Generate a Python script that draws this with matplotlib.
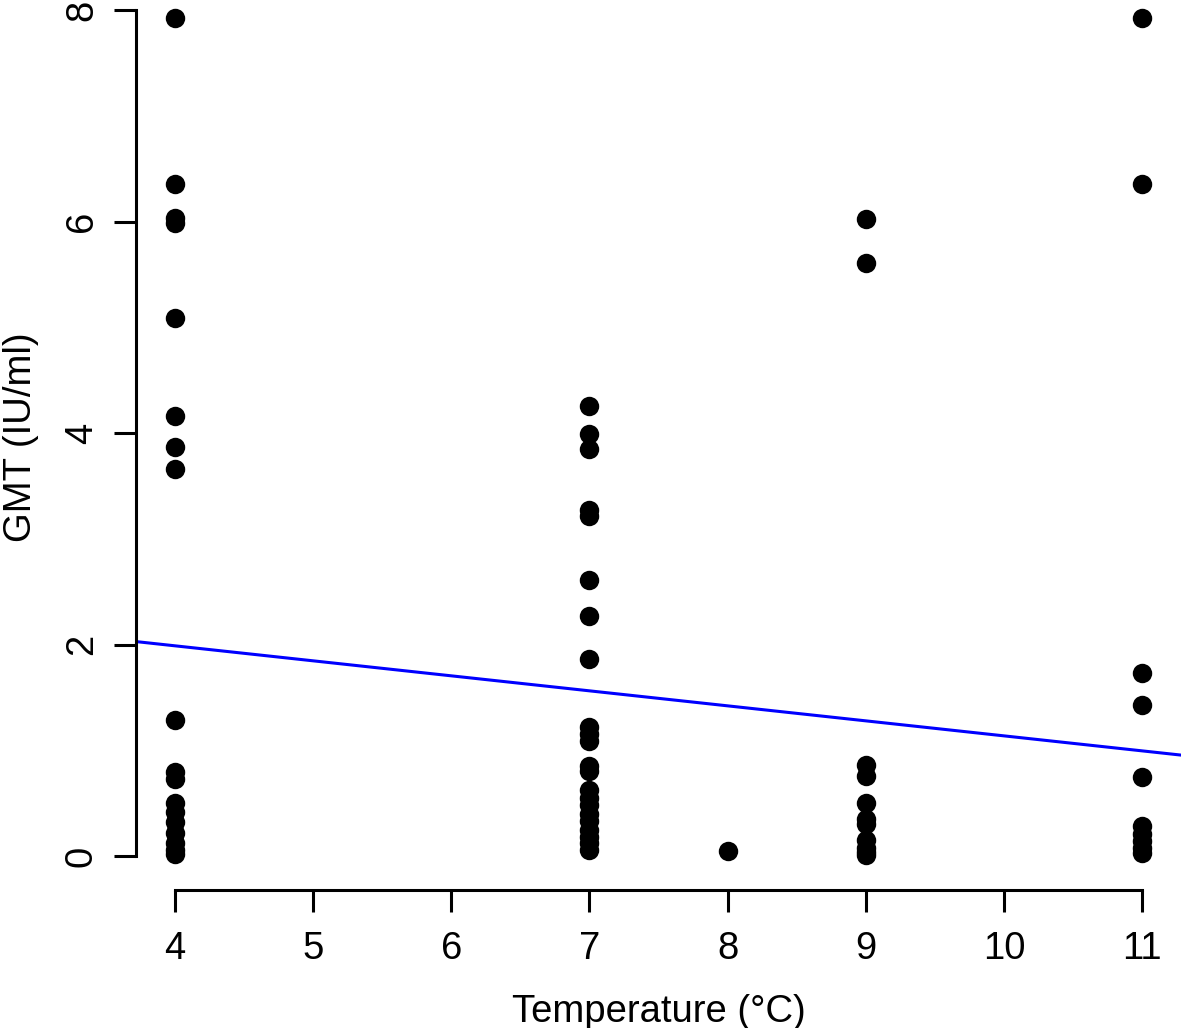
import numpy as np
import matplotlib.pyplot as plt

plt.rcParams['font.family'] = ['Liberation Sans', 'DejaVu Sans']

# GMT readings per storage temperature
temp_4 = [7.93, 6.36, 6.03, 5.99, 5.09, 4.16, 3.87, 3.66, 1.29, 0.79, 0.73,
          0.50, 0.42, 0.32, 0.22, 0.12, 0.06, 0.02]
temp_7 = [4.26, 3.99, 3.85, 3.27, 3.22, 2.61, 2.27, 1.86, 1.22, 1.15, 1.09,
          0.85, 0.80, 0.62, 0.55, 0.48, 0.40, 0.33, 0.25, 0.18, 0.12, 0.06]
temp_8 = [0.05]
temp_9 = [6.02, 5.61, 0.86, 0.76, 0.50, 0.35, 0.30, 0.15, 0.08, 0.04, 0.01]
temp_11 = [7.93, 6.36, 1.73, 1.43, 0.75, 0.28, 0.21, 0.14, 0.08, 0.03]

groups = {4: temp_4, 7: temp_7, 8: temp_8, 9: temp_9, 11: temp_11}

# fitted line GMT = a + b * temperature
fit_a = 2.556
fit_b = -0.142

x_ticks = [4, 5, 6, 7, 8, 9, 10, 11]
y_ticks = [0, 2, 4, 6, 8]

xs = []
ys = []
for t, vals in groups.items():
    xs += [t] * len(vals)
    ys += vals

fig = plt.figure(figsize=(11.81, 10.28), dpi=100)
ax = fig.add_axes([136 / 1181, 138.5 / 1028, 1045 / 1181, 905.5 / 1028])

ax.plot(xs, ys, 'o', color='black', markersize=14, markeredgewidth=0, zorder=3)

xl = (3.72, 11.28)
ax.set_xlim(xl)
ax.set_ylim(-0.317, 8.247)
ax.plot(xl, [fit_a + fit_b * xl[0], fit_a + fit_b * xl[1]], color='#0000ff', lw=2.2, zorder=2)

for s in ['top', 'right']:
    ax.spines[s].set_visible(False)
ax.spines['left'].set_bounds(0, 8)
ax.spines['bottom'].set_bounds(4, 11)
ax.spines['left'].set_linewidth(2.2)
ax.spines['bottom'].set_linewidth(2.2)

ax.set_xticks(x_ticks)
ax.set_yticks(y_ticks)
ax.set_yticklabels([str(v) for v in y_ticks], rotation=90, va='center')
ax.tick_params(length=16, width=2.2, labelsize=27.5, pad=14)
ax.tick_params(axis='y', pad=10)

ax.set_xlabel('Temperature (°C)', fontsize=27.5, labelpad=19)
ax.set_ylabel('GMT (IU/ml)', fontsize=27.5, labelpad=18)

fig.savefig('out.png', dpi=100)
